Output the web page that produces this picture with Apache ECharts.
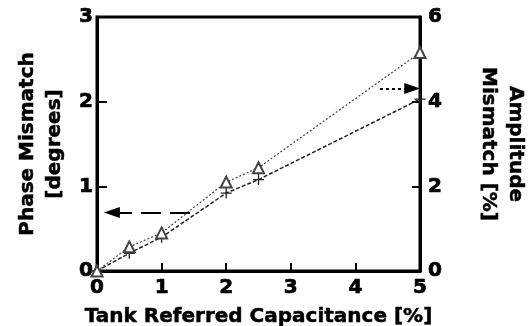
<!DOCTYPE html>
<html>
<head>
<meta charset="utf-8">
<script src="https://cdn.jsdelivr.net/npm/echarts@6/dist/echarts.min.js"></script>
<style>html,body{margin:0;padding:0;background:#fff}#c{width:530px;height:326px}</style>
</head>
<body>
<div id="c"></div>
<script>
var capacitance = [0, 0.5, 1, 2, 2.5, 5];
var phaseMismatch = [0, 0.21, 0.40, 0.92, 1.08, 2.03];
var amplitudeMismatch = [0, 0.57, 0.9, 2.1, 2.44, 5.16];
var xTicks = [0, 1, 2, 3, 4, 5];
var leftTicks = [0, 1, 2, 3];
var rightTicks = [0, 2, 4, 6];
var phaseArrow = [[1.44, 0.69], [0.23, 0.69]];
var ampArrow = [[4.38, 4.31], [4.88, 4.31]];

var font = 'DejaVu Sans';
var chart = echarts.init(document.getElementById('c'));
var crossPath = 'path://M4.4,0 H5.6 V4.4 H10 V5.6 H5.6 V10 H4.4 V5.6 H0 V4.4 H4.4 Z';
function pairs(xs, ys){ return xs.map(function(x,i){ return [x, ys[i]]; }); }
var tickStyle = {fontFamily: font, fontWeight: 'bold', fontSize: 20, color: '#000', textBorderColor: '#000', textBorderWidth: 0.7};
var nameStyle = {fontFamily: font, fontWeight: 'bold', fontSize: 20, color: '#000', lineHeight: 27, textBorderColor: '#000', textBorderWidth: 0.5};
chart.setOption({
  animation: false,
  grid: {left: 97, right: 110, top: 17, bottom: 55, show: true, borderColor: '#000', borderWidth: 3,
         containLabel: false, outerBoundsMode: 'none'},
  xAxis: {
    type: 'value', min: xTicks[0], max: xTicks[xTicks.length-1], interval: 1,
    name: 'Tank Referred Capacitance [%]', nameLocation: 'middle', nameGap: 30,
    nameTextStyle: nameStyle,
    axisLine: {lineStyle: {color: '#000', width: 3}},
    axisTick: {inside: true, length: 8, lineStyle: {color: '#000', width: 2}},
    axisLabel: Object.assign({margin: 7}, tickStyle),
    splitLine: {show: false}
  },
  yAxis: [{
    type: 'value', min: leftTicks[0], max: leftTicks[leftTicks.length-1], interval: 1,
    name: 'Phase Mismatch\n[degrees]', nameLocation: 'middle', nameGap: 29, nameRotate: 90,
    nameTextStyle: nameStyle,
    axisLine: {show: true, lineStyle: {color: '#000', width: 3}},
    axisTick: {inside: true, length: 10, lineStyle: {color: '#000', width: 2}},
    axisLabel: Object.assign({margin: 4}, tickStyle),
    splitLine: {show: false}
  }, {
    type: 'value', min: rightTicks[0], max: rightTicks[rightTicks.length-1], interval: 2,
    position: 'right',
    name: 'Amplitude\nMismatch [%]', nameLocation: 'middle', nameGap: 55, nameRotate: -90,
    nameTextStyle: nameStyle,
    axisLine: {show: true, lineStyle: {color: '#000', width: 3}},
    axisTick: {inside: true, length: 8, lineStyle: {color: '#000', width: 2}},
    axisLabel: Object.assign({margin: 8}, tickStyle),
    splitLine: {show: false}
  }],
  series: [{
    name: 'Phase', type: 'line', yAxisIndex: 0,
    data: pairs(capacitance, phaseMismatch),
    symbol: crossPath, symbolSize: 11,
    itemStyle: {color: '#222'},
    lineStyle: {color: '#222', width: 1.5, type: [4, 2]},
    markLine: {
      silent: true, symbol: ['none', 'triangle'], symbolSize: [11, 16],
      label: {show: false},
      lineStyle: {color: '#000', width: 2, type: [20, 9]},
      data: [[{coord: phaseArrow[0]}, {coord: phaseArrow[1]}]]
    }
  }, {
    name: 'Amplitude', type: 'line', yAxisIndex: 1,
    data: pairs(capacitance, amplitudeMismatch),
    symbol: 'emptyTriangle', symbolSize: 11,
    itemStyle: {color: '#444', borderColor: '#444', borderWidth: 1},
    lineStyle: {color: '#444', width: 1.2, type: [2, 2]},
    markLine: {
      silent: true, symbol: ['none', 'triangle'], symbolSize: [11, 16],
      label: {show: false},
      lineStyle: {color: '#000', width: 2, type: [3, 3]},
      data: [[{coord: ampArrow[0]}, {coord: ampArrow[1]}]]
    }
  }]
});
</script>
</body>
</html>
